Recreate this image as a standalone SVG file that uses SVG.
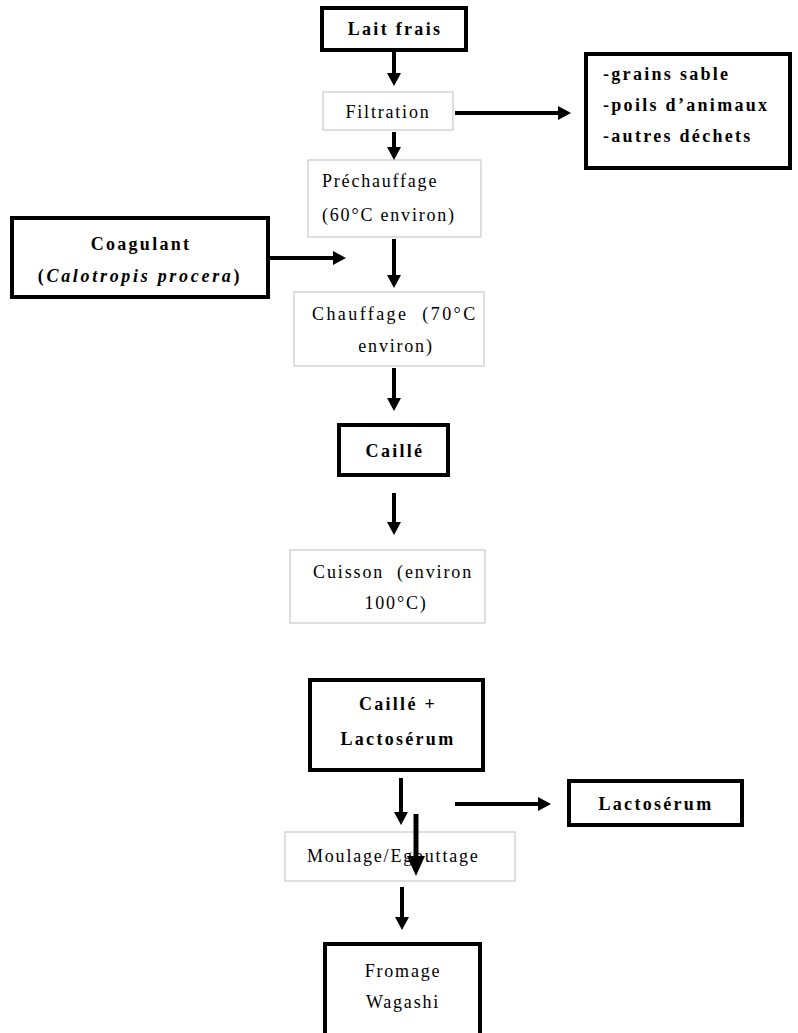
<svg xmlns="http://www.w3.org/2000/svg" width="798" height="1033" viewBox="0 0 798 1033">
<defs>
<style>
.thin{fill:#fff;stroke:#bfbfbf;stroke-width:1}
.thick{fill:#fff;stroke:#000;stroke-width:4}
.t{font-family:"Liberation Serif","Times New Roman",serif;font-size:18px;letter-spacing:1.8px;fill:#000;white-space:pre}
.b{font-family:"Liberation Serif","Times New Roman",serif;font-size:18px;font-weight:bold;letter-spacing:2.3px;fill:#000;white-space:pre}
.c{text-anchor:middle}
.ln{stroke:#000;stroke-width:4;fill:none}
</style>
<marker id="ah" markerUnits="userSpaceOnUse" markerWidth="13" markerHeight="14" refX="5" refY="7" orient="auto"><path d="M0,0 L13,7 L0,14 z" fill="#000"/></marker>
<marker id="ahb" markerUnits="userSpaceOnUse" markerWidth="20" markerHeight="18" refX="8" refY="9" orient="auto"><path d="M0,0 L20,9 L0,18 z" fill="#000"/></marker>
</defs>
<rect width="798" height="1033" fill="#fff"/>

<g id="lait"><rect class="thick" x="322" y="8" width="144" height="42"/><text class="b c" x="395" y="35">Lait frais</text></g>
<g id="filtration"><rect class="thin" x="323" y="92" width="130" height="38"/><text class="t c" x="388" y="118">Filtration</text></g>
<g id="dechets"><rect class="thick" x="586" y="54" width="204" height="114"/>
<text class="b" x="603" y="80">-grains sable</text>
<text class="b" x="603" y="111">-poils d’animaux</text>
<text class="b" x="603" y="142">-autres déchets</text></g>
<g id="prechauffage"><rect class="thin" x="308" y="160" width="173" height="77"/>
<text class="t" x="322" y="187">Préchauffage</text>
<text class="t" x="322" y="221">(60°C environ)</text></g>
<g id="coagulant"><rect class="thick" x="12" y="218" width="256" height="79"/>
<text class="b c" x="141" y="250">Coagulant</text>
<text class="b c" x="140" y="282" style="letter-spacing:2.7px">(<tspan font-style="italic">Calotropis procera</tspan>)</text></g>
<g id="chauffage"><rect class="thin" x="294" y="292" width="190" height="74"/>
<text class="t" x="312" y="320" textLength="165" lengthAdjust="spacing">Chauffage  (70°C</text>
<text class="t c" x="396" y="352">environ)</text></g>
<g id="caille"><rect class="thick" x="339" y="425" width="109" height="50"/><text class="b c" x="395" y="457">Caillé</text></g>
<g id="cuisson"><rect class="thin" x="290" y="550" width="195" height="73"/>
<text class="t" x="313" y="578" textLength="160" lengthAdjust="spacing">Cuisson  (environ</text>
<text class="t c" x="396" y="609">100°C)</text></g>
<g id="caille-lacto"><rect class="thick" x="310" y="680" width="173" height="90"/>
<text class="b c" x="398" y="710">Caillé +</text>
<text class="b c" x="398" y="745">Lactosérum</text></g>
<g id="lactoserum"><rect class="thick" x="569" y="781" width="173" height="44"/><text class="b c" x="656" y="810">Lactosérum</text></g>
<g id="moulage"><rect class="thin" x="285" y="832" width="230" height="49"/><text class="t" x="307" y="862">Moulage/Egouttage</text></g>
<g id="fromage"><rect class="thick" x="325" y="944" width="155" height="100"/>
<text class="t c" x="403" y="977">Fromage</text>
<text class="t c" x="403" y="1008">Wagashi</text></g>

<g id="connectors">
<line class="ln" x1="394" y1="52" x2="394" y2="78" marker-end="url(#ah)"/>
<line class="ln" x1="455" y1="113" x2="563" y2="113" marker-end="url(#ah)"/>
<line class="ln" x1="394" y1="132" x2="394" y2="152" marker-end="url(#ah)"/>
<line class="ln" x1="270" y1="258" x2="338" y2="258" marker-end="url(#ah)"/>
<line class="ln" x1="394" y1="239" x2="394" y2="280" marker-end="url(#ah)"/>
<line class="ln" x1="394" y1="368" x2="394" y2="403" marker-end="url(#ah)"/>
<line class="ln" x1="394" y1="493" x2="394" y2="527" marker-end="url(#ah)"/>
<line class="ln" x1="401" y1="778" x2="401" y2="817" marker-end="url(#ah)"/>
<line class="ln" x1="455" y1="804" x2="543" y2="804" marker-end="url(#ah)"/>
<line class="ln" x1="402" y1="887" x2="402" y2="922" marker-end="url(#ah)"/>
<line x1="416" y1="814" x2="416" y2="864" stroke="#000" stroke-width="5" marker-end="url(#ahb)"/>
</g>
</svg>
